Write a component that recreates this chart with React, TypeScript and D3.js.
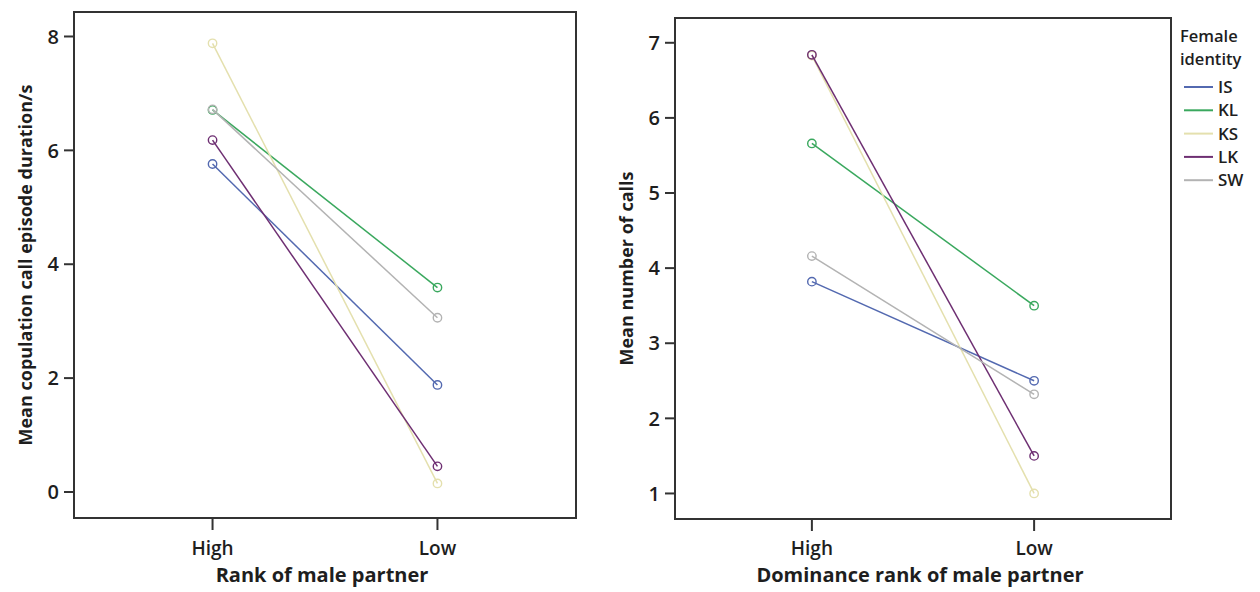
import React, { useEffect } from "react";
import * as d3 from "d3";

const ranks = ["High", "Low"];
const females = ["IS", "KL", "KS", "LK", "SW"];
const colors = ["#5369b0", "#3aa85e", "#e4e0ae", "#6e2f72", "#b3b3b3"];

// Left panel: mean copulation call episode duration (s)
const durationHigh = [5.76, 6.71, 7.88, 6.18, 6.72];
const durationLow = [1.88, 3.59, 0.15, 0.45, 3.06];
const durationTicks = [0, 2, 4, 6, 8];

// Right panel: mean number of calls
const callsHigh = [3.82, 5.66, 6.83, 6.84, 4.16];
const callsLow = [2.5, 3.5, 1.0, 1.5, 2.32];
const callsTicks = [1, 2, 3, 4, 5, 6, 7];

const FONT = "'Open Sans', sans-serif";
const TXT = "#1e1e1e";

type PanelProps = {
  x0: number; x1: number; y0: number; y1: number;
  yDomain: [number, number];
  ticks: number[];
  high: number[]; low: number[];
  yTitle: string; xTitle: string;
};

function Panel({ x0, x1, y0, y1, yDomain, ticks, high, low, yTitle, xTitle }: PanelProps) {
  const x = d3.scalePoint<string>().domain(ranks).range([x0, x1]).padding(0.616);
  const y = d3.scaleLinear().domain(yDomain).range([y1, y0]);
  const line = d3.line<[string, number]>().x((d) => x(d[0]) as number).y((d) => y(d[1]));
  const series = females.map((f, i) => ({
    f,
    color: colors[i],
    pts: [["High", high[i]], ["Low", low[i]]] as [string, number][],
  }));
  const cy = (y0 + y1) / 2;
  const cx = (x0 + x1) / 2;
  return (
    <g>
      <rect x={x0} y={y0} width={x1 - x0} height={y1 - y0} fill="none" stroke="#333" strokeWidth={2} />
      {ticks.map((t) => (
        <g key={t}>
          <line x1={x0 - 10} x2={x0} y1={y(t)} y2={y(t)} stroke="#333" strokeWidth={2} />
          <text x={x0 - 15} y={y(t)} dy="0.36em" textAnchor="end" fontSize={20} fontWeight={600} fill={TXT} fontFamily={FONT}>{t}</text>
        </g>
      ))}
      {ranks.map((r) => (
        <g key={r}>
          <line x1={x(r)} x2={x(r)} y1={y1} y2={y1 + 12} stroke="#333" strokeWidth={2} />
          <text x={x(r)} y={555} textAnchor="middle" fontSize={19} fontWeight={600} fill={TXT} fontFamily={FONT}>{r}</text>
        </g>
      ))}
      <text x={cx - 3} y={582} textAnchor="middle" fontSize={20} fontWeight={700} fill={TXT} fontFamily={FONT}>{xTitle}</text>
      <text transform={`translate(${x0 - 42},${cy}) rotate(-90)`} textAnchor="middle" fontSize={18} fontWeight={700} fill={TXT} fontFamily={FONT}>{yTitle}</text>
      {series.map((s) => (
        <g key={s.f}>
          <path d={line(s.pts) as string} fill="none" stroke={s.color} strokeWidth={1.5} />
          {s.pts.map((p) => (
            <circle key={p[0]} cx={x(p[0])} cy={y(p[1])} r={4.2} fill="none" stroke={s.color} strokeWidth={1.4} />
          ))}
        </g>
      ))}
    </g>
  );
}

export default function App() {
  useEffect(() => {
    document.body.style.margin = "0";
  }, []);
  return (
    <svg width={1260} height={592} style={{ display: "block", background: "#fff" }}>
      <Panel x0={74} x1={576} y0={12} y1={518} yDomain={[-0.457, 8.43]} ticks={durationTicks}
        high={durationHigh} low={durationLow}
        yTitle="Mean copulation call episode duration/s" xTitle="Rank of male partner" />
      <Panel x0={675} x1={1171} y0={18} y1={519} yDomain={[0.66, 7.33]} ticks={callsTicks}
        high={callsHigh} low={callsLow}
        yTitle="Mean number of calls" xTitle="Dominance rank of male partner" />
      <g fontFamily={FONT} fill={TXT}>
        <text x={1180} y={42} fontSize={16.5} fontWeight={600}>Female</text>
        <text x={1180} y={65} fontSize={16.5} fontWeight={600}>identity</text>
        {females.map((f, i) => (
          <g key={f} transform={`translate(0,${87 + i * 23.3})`}>
            <line x1={1184} x2={1213} y1={0} y2={0} stroke={colors[i]} strokeWidth={2} />
            <text x={1218} y={0} dy="0.36em" fontSize={17} fontWeight={600}>{f}</text>
          </g>
        ))}
      </g>
    </svg>
  );
}
